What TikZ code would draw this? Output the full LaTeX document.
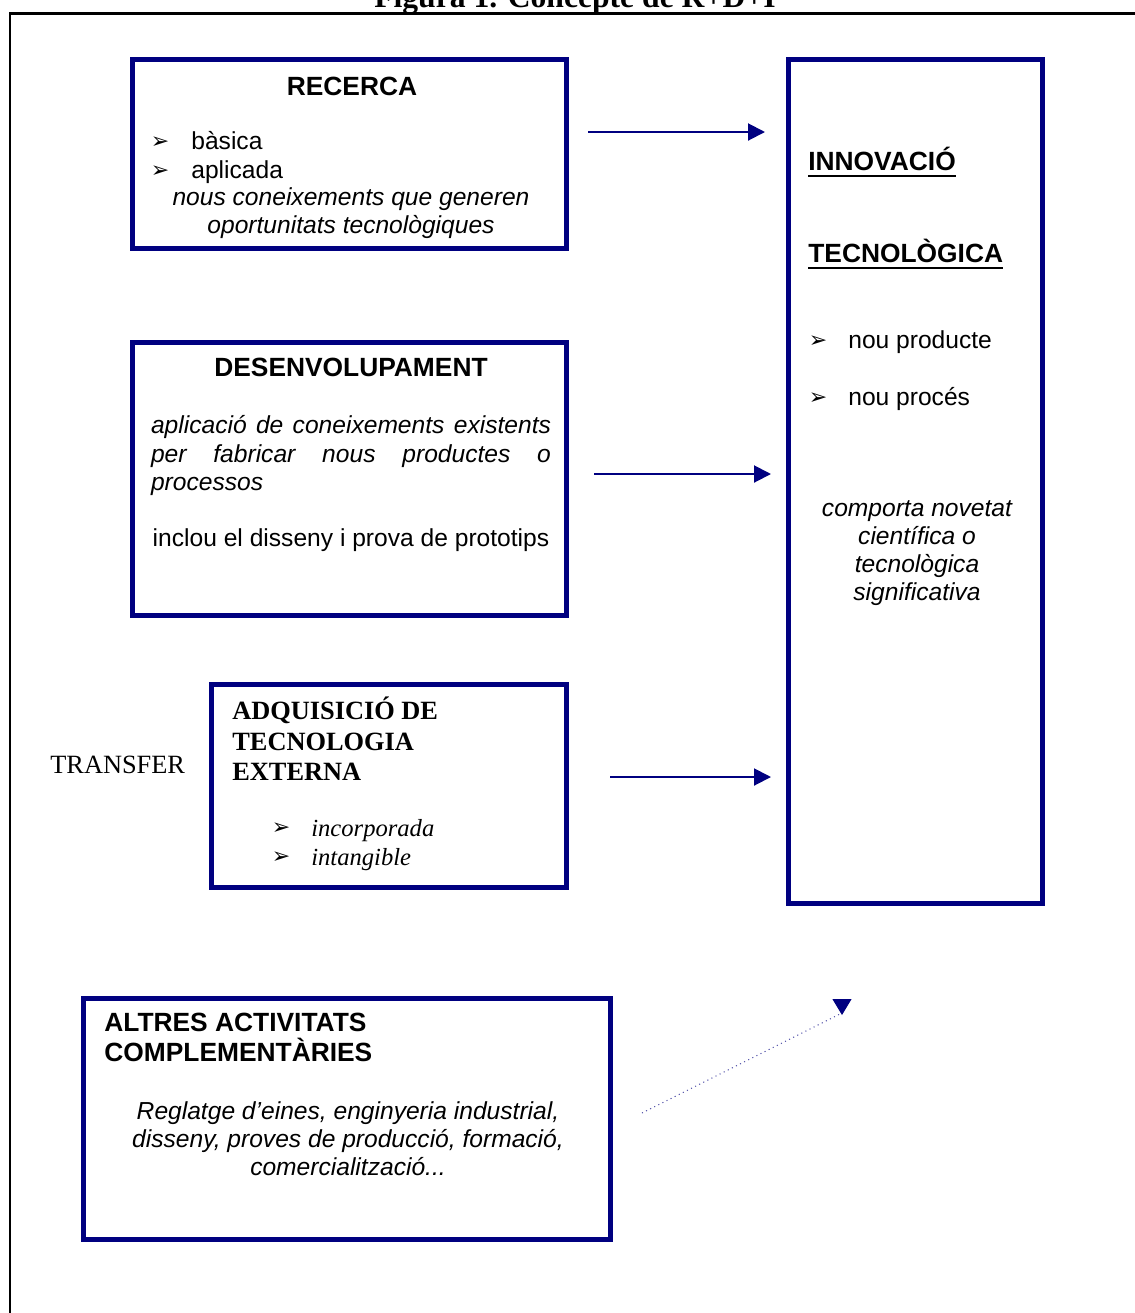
\documentclass[tikz,border=0pt]{standalone}
\usepackage{fontspec}
\setmainfont{Liberation Sans}
\newfontfamily\timesfont{Liberation Serif}
\newfontfamily\dingfont{DejaVu Sans}
\usetikzlibrary{arrows.meta}
\definecolor{navyblue}{RGB}{0,0,128}
\newcommand{\bul}{{\dingfont\fontsize{12.5}{12.5}\selectfont ➢}}
\tikzset{
  box/.style={draw=navyblue, line width=0.1cm, inner sep=0pt, outer sep=0pt},
  txt/.style={inner sep=0pt, font=\fontsize{14}{16}\selectfont},
  itxt/.style={inner sep=0pt, font=\fontsize{14}{16}\selectfont\itshape},
  head/.style={inner sep=0pt, font=\fontsize{15}{17}\selectfont\bfseries},
  shead/.style={inner sep=0pt, font=\timesfont\fontsize{15}{17.3}\selectfont\bfseries},
  arr/.style={draw=navyblue, line width=0.04cm, -{Triangle[length=0.34cm,width=0.34cm]}},
  uline/.style={line width=1.3pt},
}
\begin{document}
\begin{tikzpicture}[x=0.02cm, y=-0.02cm]
\useasboundingbox (0,0) rectangle (1135,1313);
\node[inner sep=0pt, anchor=base, font=\timesfont\fontsize{18}{20}\selectfont\bfseries] (title) at (575,7) {Figura 1. Concepte de R+D+I};
\draw[line width=0.06cm] (1140,13) -| (10,1320);
%
\node[box, minimum width=8.68cm, minimum height=3.78cm] (recerca) at (349.5,154) {};
\node[box, minimum width=5.08cm, minimum height=16.88cm] (innov) at (915.5,481.5) {};
\node[box, minimum width=8.68cm, minimum height=5.46cm] (desenv) at (349.5,479) {};
\node[box, minimum width=7.10cm, minimum height=4.06cm] (adq) at (389,786) {};
\node[box, minimum width=10.54cm, minimum height=4.82cm] (altres) at (347,1119) {};
%
\node[head] (rectitle) at (352,86) {RECERCA};
\node (b1) at (160,143) {\bul};
\node[txt, anchor=mid west] (basica) at (191,145) {bàsica};
\node (b2) at (160,172) {\bul};
\node[txt, anchor=mid west] (aplicada) at (191,174) {aplicada};
\node[itxt, align=center] (recinfo) at (351,213) {nous coneixements que generen\\oportunitats tecnològiques};
%
\node[head, anchor=mid west] (innov1) at (808,166) {INNOVACIÓ};
\node[head, anchor=mid west] (innov2) at (808,258) {TECNOLÒGICA};
\draw[uline] ([yshift=-2.5pt]innov1.south west) -- ([yshift=-2.5pt]innov1.south east);
\draw[uline] ([yshift=-2.5pt]innov2.south west) -- ([yshift=-2.5pt]innov2.south east);
\node (b3) at (818,342) {\bul};
\node[txt, anchor=mid west] (producte) at (848,344) {nou producte};
\node (b4) at (818,399) {\bul};
\node[txt, anchor=mid west] (proces) at (848,401) {nou procés};
\node[itxt, align=center] (novetat) at (917,553) {comporta novetat\\científica o\\tecnològica\\significativa};
%
\node[head] (destitle) at (351,367) {DESENVOLUPAMENT};
\node[itxt, text width=8cm, align=justify, font=\fontsize{14}{16.3}\selectfont\itshape] (desinfo) at (351,455.5) {aplicació de coneixements existents\linebreak per fabricar nous productes o\linebreak processos};
\node[txt] (prototips) at (351,540) {inclou el disseny i prova de prototips};
%
\node[shead, anchor=west, align=left] (adqtitle) at (232,739) {ADQUISICIÓ DE\\TECNOLOGIA\\EXTERNA};
\node (b5) at (281,829) {\bul};
\node[itxt, anchor=mid west, font=\timesfont\fontsize{14}{16}\selectfont\itshape] (incorp) at (311,832) {incorporada};
\node (b6) at (281,858) {\bul};
\node[itxt, anchor=mid west, font=\timesfont\fontsize{14}{16}\selectfont\itshape] (intang) at (311,861) {intangible};
\node[inner sep=0pt, anchor=west, font=\timesfont\fontsize{15}{17}\selectfont] (transfer) at (50,765) {TRANSFER};
%
\node[head, anchor=west, align=left] (alttitle) at (104,1037) {ALTRES ACTIVITATS\\COMPLEMENTÀRIES};
\node[itxt, align=center] (altinfo) at (348,1139) {Reglatge d’eines, enginyeria industrial,\\disseny, proves de producció, formació,\\comercialització...};
%
\coordinate (r1) at (588,132);
\coordinate (r2) at (765,132);
\coordinate (d1) at (594,474);
\coordinate (d2) at (771,474);
\coordinate (t1) at (610,777);
\coordinate (t2) at (771,777);
\coordinate (c1) at (642,1113);
\coordinate (c2) at (842,1013);
\draw[arr](r1) -- (r2);
\draw[arr](d1) -- (d2);
\draw[arr](t1) -- (t2);
\draw[navyblue!70, line width=0.6pt, dotted, -{Triangle[length=0.32cm,width=0.38cm,color=navyblue]}](c1) -- (c2) -- ++(0,2);
\end{tikzpicture}
\end{document}
